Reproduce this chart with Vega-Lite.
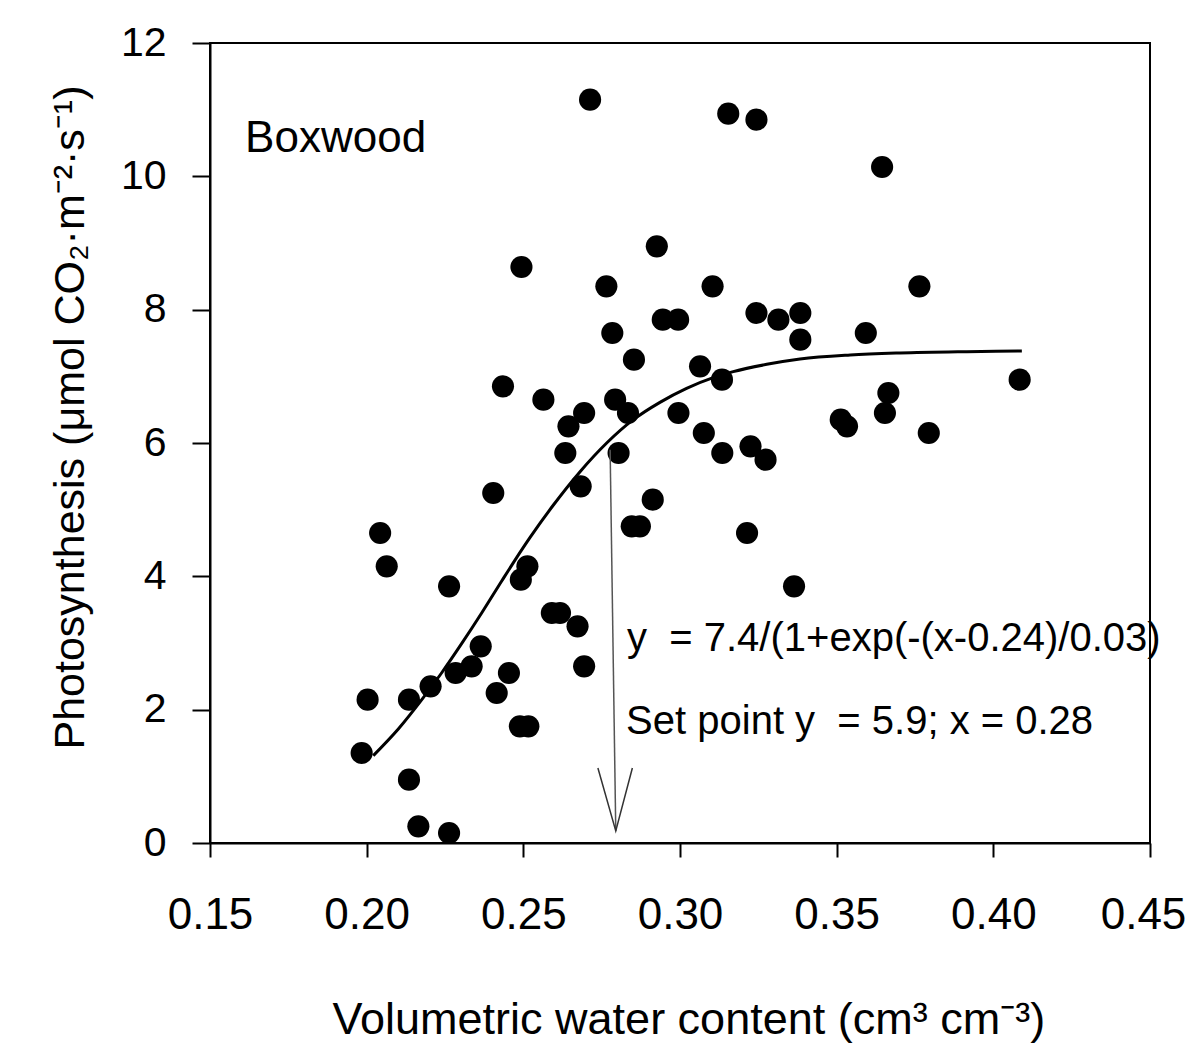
{
  "$schema": "https://vega.github.io/schema/vega-lite/v6.json",
  "width": 940,
  "height": 800,
  "autosize": "none",
  "padding": {"left": 210, "top": 43, "right": 40, "bottom": 209},
  "background": "white",
  "config": {
    "view": {"stroke": "black", "strokeWidth": 2},
    "font": "Liberation Sans",
    "axis": {"grid": false, "domainColor": "black", "domainWidth": 2, "tickColor": "black", "tickWidth": 2, "labelColor": "black", "titleColor": "black", "titleFontWeight": "normal", "labelFont": "Liberation Sans", "titleFont": "Liberation Sans", "labelFlush": false, "labelOverlap": false, "labelBound": false}
  },
  "datasets": {
    "points": [
      {"vwc": 0.1984, "ps": 1.35}, {"vwc": 0.2003, "ps": 2.15}, {"vwc": 0.2043, "ps": 4.65}, {"vwc": 0.2064, "ps": 4.15},
      {"vwc": 0.2135, "ps": 2.15}, {"vwc": 0.2135, "ps": 0.95}, {"vwc": 0.2165, "ps": 0.25}, {"vwc": 0.2204, "ps": 2.35},
      {"vwc": 0.2263, "ps": 0.15}, {"vwc": 0.2263, "ps": 3.85}, {"vwc": 0.2284, "ps": 2.55}, {"vwc": 0.2335, "ps": 2.65},
      {"vwc": 0.2364, "ps": 2.95}, {"vwc": 0.2404, "ps": 5.25}, {"vwc": 0.2415, "ps": 2.25}, {"vwc": 0.2435, "ps": 6.85},
      {"vwc": 0.2454, "ps": 2.55}, {"vwc": 0.2494, "ps": 8.64}, {"vwc": 0.2492, "ps": 3.95}, {"vwc": 0.2489, "ps": 1.75},
      {"vwc": 0.2513, "ps": 4.15}, {"vwc": 0.2516, "ps": 1.75}, {"vwc": 0.2564, "ps": 6.65}, {"vwc": 0.2591, "ps": 3.45},
      {"vwc": 0.2617, "ps": 3.45}, {"vwc": 0.2634, "ps": 5.85}, {"vwc": 0.2644, "ps": 6.25}, {"vwc": 0.2673, "ps": 3.25},
      {"vwc": 0.2683, "ps": 5.35}, {"vwc": 0.2694, "ps": 6.45}, {"vwc": 0.2694, "ps": 2.65}, {"vwc": 0.2713, "ps": 11.15},
      {"vwc": 0.2765, "ps": 8.35}, {"vwc": 0.2784, "ps": 7.65}, {"vwc": 0.2793, "ps": 6.65}, {"vwc": 0.2804, "ps": 5.85},
      {"vwc": 0.2834, "ps": 6.45}, {"vwc": 0.2846, "ps": 4.75}, {"vwc": 0.2853, "ps": 7.25}, {"vwc": 0.2872, "ps": 4.75},
      {"vwc": 0.2913, "ps": 5.15}, {"vwc": 0.2926, "ps": 8.95}, {"vwc": 0.2945, "ps": 7.85}, {"vwc": 0.2994, "ps": 7.85},
      {"vwc": 0.2995, "ps": 6.45}, {"vwc": 0.3064, "ps": 7.15}, {"vwc": 0.3076, "ps": 6.15}, {"vwc": 0.3104, "ps": 8.35},
      {"vwc": 0.3134, "ps": 6.95}, {"vwc": 0.3135, "ps": 5.85}, {"vwc": 0.3154, "ps": 10.94}, {"vwc": 0.3214, "ps": 4.65},
      {"vwc": 0.3225, "ps": 5.95}, {"vwc": 0.3244, "ps": 10.85}, {"vwc": 0.3244, "ps": 7.95}, {"vwc": 0.3273, "ps": 5.75},
      {"vwc": 0.3314, "ps": 7.85}, {"vwc": 0.3364, "ps": 3.85}, {"vwc": 0.3384, "ps": 7.95}, {"vwc": 0.3384, "ps": 7.55},
      {"vwc": 0.3513, "ps": 6.35}, {"vwc": 0.3533, "ps": 6.25}, {"vwc": 0.3593, "ps": 7.65}, {"vwc": 0.3645, "ps": 10.14},
      {"vwc": 0.3654, "ps": 6.45}, {"vwc": 0.3665, "ps": 6.75}, {"vwc": 0.3764, "ps": 8.35}, {"vwc": 0.3794, "ps": 6.15},
      {"vwc": 0.4084, "ps": 6.95}
    ],
    "curve": [
      {"vwc": 0.2021, "ps": 1.31}, {"vwc": 0.2101, "ps": 1.71}, {"vwc": 0.2176, "ps": 2.15}, {"vwc": 0.2239, "ps": 2.55},
      {"vwc": 0.2303, "ps": 2.99}, {"vwc": 0.2367, "ps": 3.45}, {"vwc": 0.2431, "ps": 3.93}, {"vwc": 0.2473, "ps": 4.24},
      {"vwc": 0.2521, "ps": 4.58}, {"vwc": 0.2596, "ps": 5.07}, {"vwc": 0.2681, "ps": 5.57}, {"vwc": 0.2766, "ps": 6.00},
      {"vwc": 0.2851, "ps": 6.35}, {"vwc": 0.2936, "ps": 6.61}, {"vwc": 0.3021, "ps": 6.82}, {"vwc": 0.3106, "ps": 6.98},
      {"vwc": 0.3170, "ps": 7.07}, {"vwc": 0.3277, "ps": 7.18}, {"vwc": 0.3383, "ps": 7.26}, {"vwc": 0.3543, "ps": 7.32},
      {"vwc": 0.3702, "ps": 7.35}, {"vwc": 0.3915, "ps": 7.37}, {"vwc": 0.4091, "ps": 7.38}
    ],
    "shaft": [
      {"vwc": 0.2777, "ps": 5.9}, {"vwc": 0.2795, "ps": 0.18}
    ],
    "head": [
      {"vwc": 0.2738, "ps": 1.125}, {"vwc": 0.2795, "ps": 0.18}, {"vwc": 0.2848, "ps": 1.125}
    ],
    "title": [{"vwc": 0.1612, "ps": 10.37, "text": "Boxwood"}],
    "notes": [
      {"vwc": 0.2831, "ps": 2.88, "text": "y\u00a0 = 7.4/(1+exp(-(x-0.24)/0.03)"},
      {"vwc": 0.2828, "ps": 1.635, "text": "Set point y\u00a0 = 5.9; x = 0.28"}
    ]
  },
  "layer": [
    {
      "data": {"name": "points"},
      "mark": {"type": "circle", "size": 490, "opacity": 1, "color": "black"},
      "encoding": {
        "x": {
          "field": "vwc", "type": "quantitative",
          "scale": {"domain": [0.15, 0.45], "nice": false, "zero": false},
          "axis": {
            "values": [0.15, 0.2, 0.25, 0.3, 0.35, 0.4, 0.45], "format": ".2f",
            "labelFontSize": 44, "labelPadding": 36, "tickSize": 14,
            "labelOffset": {"condition": {"test": "datum.value > 0.449", "value": -7}, "value": 0},
            "title": "Volumetric water content (cm³ cm⁻³)",
            "titleFontSize": 45, "titleAlign": "left", "titleBaseline": "alphabetic",
            "titleX": 122, "titleY": 190
          }
        },
        "y": {
          "field": "ps", "type": "quantitative",
          "scale": {"domain": [0, 12], "nice": false, "zero": false},
          "axis": {
            "values": [0, 2, 4, 6, 8, 10, 12], "format": "d",
            "labelFontSize": 41, "labelPadding": 26, "tickSize": 18,
            "title": "Photosynthesis (μmol CO₂·m⁻²·s⁻¹)",
            "titleFontSize": 43, "titleAngle": 270, "titleAlign": "left", "titleBaseline": "alphabetic",
            "titleX": -127, "titleY": 706
          }
        }
      }
    },
    {
      "data": {"name": "curve"},
      "mark": {"type": "line", "color": "black", "strokeWidth": 3, "interpolate": "monotone"},
      "encoding": {
        "x": {"field": "vwc", "type": "quantitative"},
        "y": {"field": "ps", "type": "quantitative"}
      }
    },
    {
      "data": {"name": "shaft"},
      "mark": {"type": "line", "color": "#555555", "strokeWidth": 1.5},
      "encoding": {
        "x": {"field": "vwc", "type": "quantitative"},
        "y": {"field": "ps", "type": "quantitative"}
      }
    },
    {
      "data": {"name": "head"},
      "mark": {"type": "line", "color": "#333333", "strokeWidth": 1.5},
      "encoding": {
        "x": {"field": "vwc", "type": "quantitative"},
        "y": {"field": "ps", "type": "quantitative"}
      }
    },
    {
      "data": {"name": "title"},
      "mark": {"type": "text", "fontSize": 44, "align": "left", "baseline": "alphabetic", "color": "black", "font": "Liberation Sans"},
      "encoding": {
        "x": {"field": "vwc", "type": "quantitative"},
        "y": {"field": "ps", "type": "quantitative"},
        "text": {"field": "text"}
      }
    },
    {
      "data": {"name": "notes"},
      "mark": {"type": "text", "fontSize": 40, "align": "left", "baseline": "alphabetic", "color": "black", "font": "Liberation Sans"},
      "encoding": {
        "x": {"field": "vwc", "type": "quantitative"},
        "y": {"field": "ps", "type": "quantitative"},
        "text": {"field": "text"}
      }
    }
  ]
}
